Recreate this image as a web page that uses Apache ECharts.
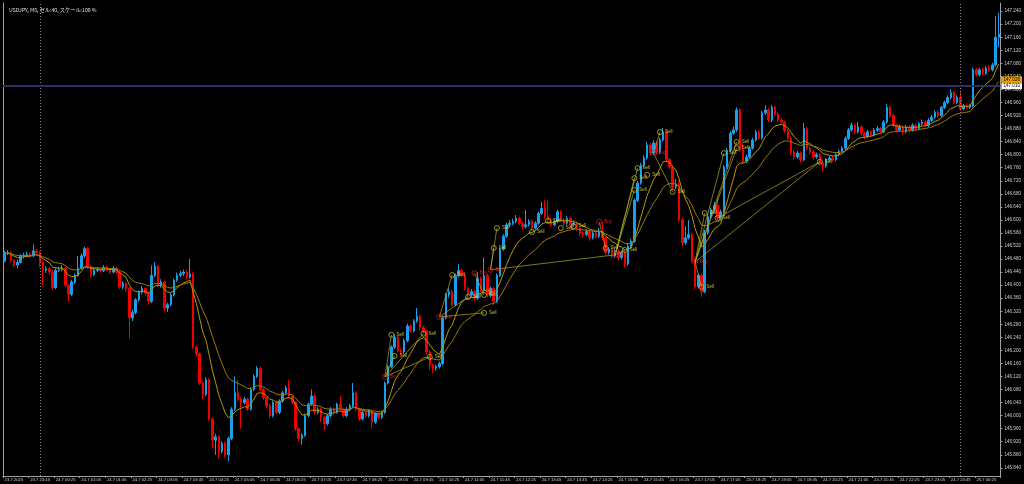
<!DOCTYPE html>
<html><head><meta charset="utf-8">
<script src="https://cdn.jsdelivr.net/npm/echarts@6/dist/echarts.min.js"></script>
<style>html,body{margin:0;padding:0;background:#000;}#c{width:1024px;height:484px;}</style>
</head><body><div id="c"></div>
<script>
const chartTitle = 'USDJPY, M5, セル:40, スケール:100 %';
const xTickLabels = ['23.7.2025','23.7 23:45','24.7 00:25','24.7 01:05','24.7 01:45','24.7 02:25','24.7 03:05','24.7 03:45','24.7 04:25','24.7 05:05','24.7 05:45','24.7 06:25','24.7 07:05','24.7 07:45','24.7 08:25','24.7 09:05','24.7 09:45','24.7 10:25','24.7 11:05','24.7 11:45','24.7 12:25','24.7 13:05','24.7 13:45','24.7 14:25','24.7 15:05','24.7 15:45','24.7 16:25','24.7 17:05','24.7 17:45','24.7 18:25','24.7 19:05','24.7 19:45','24.7 20:25','24.7 21:05','24.7 21:45','24.7 22:25','24.7 23:05','24.7 23:45','25.7 00:25'];
const yTicks = [145.840,145.880,145.920,145.960,146.000,146.040,146.080,146.120,146.160,146.200,146.240,146.280,146.320,146.360,146.400,146.440,146.480,146.520,146.560,146.600,146.640,146.680,146.720,146.760,146.800,146.840,146.880,146.920,146.960,147.000,147.040,147.080,147.120,147.160,147.200,147.240];

const opens = [
146.474,146.498,146.500,146.476,146.462,146.470,146.488,146.492,
146.495,146.490,146.505,146.500,146.470,146.445,146.450,146.440,
146.392,146.446,146.448,146.452,146.400,146.372,146.410,146.430,
146.452,146.490,146.512,146.458,146.432,146.445,146.448,146.444,
146.455,146.447,146.440,146.452,146.440,146.395,146.405,146.390,
146.300,146.316,146.355,146.378,146.390,146.375,146.350,146.430,
146.458,146.400,146.410,146.330,146.340,146.370,146.415,146.430,
146.435,146.440,146.425,146.435,146.210,146.190,146.100,146.065,
146.110,145.990,145.925,145.935,145.890,145.915,145.880,145.930,
146.020,146.070,146.050,146.040,146.050,146.020,146.080,146.120,
146.145,146.080,146.055,146.030,146.000,146.040,146.010,146.045,
146.070,146.085,146.060,146.040,145.960,145.930,145.940,146.000,
146.035,146.060,146.010,146.020,145.995,145.975,146.000,146.020,
146.010,146.035,146.020,146.000,146.020,146.030,146.070,146.020,
145.990,146.010,146.000,146.015,145.980,146.005,145.995,146.010,
146.100,146.150,146.210,146.240,146.200,146.195,146.230,146.275,
146.260,146.290,146.305,146.270,146.260,146.195,146.155,146.145,
146.150,146.160,146.300,146.370,146.380,146.340,146.430,146.445,
146.430,146.390,146.370,146.380,146.360,146.420,146.385,146.430,
146.370,146.390,146.350,146.430,146.510,146.550,146.585,146.590,
146.595,146.605,146.590,146.580,146.585,146.595,146.575,146.590,
146.620,146.635,146.610,146.600,146.585,146.595,146.625,146.600,
146.590,146.605,146.585,146.590,146.575,146.560,146.555,146.565,
146.545,146.560,146.550,146.565,146.545,146.500,146.510,146.490,
146.505,146.485,146.500,146.465,146.520,146.535,146.660,146.713,
146.768,146.790,146.830,146.805,146.836,146.808,146.845,146.870,
146.785,146.762,146.701,146.710,146.600,146.530,146.545,146.555,
146.477,146.395,146.430,146.380,146.560,146.610,146.631,146.646,
146.606,146.625,146.762,146.814,146.866,146.876,146.937,146.814,
146.780,146.793,146.820,146.845,146.869,146.851,146.928,146.937,
146.906,146.946,146.925,146.906,146.900,146.873,146.851,146.808,
146.793,146.805,146.784,146.880,146.820,146.808,146.793,146.800,
146.774,146.765,146.785,146.790,146.785,146.800,146.810,146.820,
146.850,146.876,146.890,146.870,146.885,146.865,146.855,146.870,
146.860,146.875,146.880,146.870,146.900,146.945,146.920,146.890,
146.875,146.885,146.870,146.885,146.875,146.890,146.880,146.895,
146.900,146.890,146.905,146.915,146.930,146.920,146.945,146.960,
146.975,146.990,146.960,146.975,146.940,146.950,146.945,146.950,
147.060,147.045,147.060,147.050,147.065,147.060,147.075,147.160];

const closes = [
146.498,146.500,146.476,146.462,146.470,146.488,146.492,146.495,
146.490,146.505,146.500,146.470,146.445,146.450,146.440,146.392,
146.446,146.448,146.452,146.400,146.372,146.410,146.430,146.452,
146.490,146.512,146.458,146.432,146.445,146.448,146.444,146.455,
146.447,146.440,146.452,146.440,146.395,146.405,146.390,146.300,
146.316,146.355,146.378,146.390,146.375,146.350,146.430,146.458,
146.400,146.410,146.330,146.340,146.370,146.415,146.430,146.435,
146.440,146.425,146.435,146.210,146.190,146.100,146.065,146.110,
145.990,145.925,145.935,145.890,145.915,145.880,145.930,146.020,
146.070,146.050,146.040,146.050,146.020,146.080,146.120,146.145,
146.080,146.055,146.030,146.000,146.040,146.010,146.045,146.070,
146.085,146.060,146.040,145.960,145.930,145.940,146.000,146.035,
146.060,146.010,146.020,145.995,145.975,146.000,146.020,146.010,
146.035,146.020,146.000,146.020,146.030,146.070,146.020,145.990,
146.010,146.000,146.015,145.980,146.005,145.995,146.010,146.100,
146.150,146.210,146.240,146.200,146.195,146.230,146.275,146.260,
146.290,146.305,146.270,146.260,146.195,146.155,146.145,146.150,
146.160,146.300,146.370,146.380,146.340,146.430,146.445,146.430,
146.390,146.370,146.380,146.360,146.420,146.385,146.430,146.370,
146.390,146.350,146.430,146.510,146.550,146.585,146.590,146.595,
146.605,146.590,146.580,146.585,146.595,146.575,146.590,146.620,
146.635,146.610,146.600,146.585,146.595,146.625,146.600,146.590,
146.605,146.585,146.590,146.575,146.560,146.555,146.565,146.545,
146.560,146.550,146.565,146.545,146.500,146.510,146.490,146.505,
146.485,146.500,146.465,146.520,146.535,146.660,146.713,146.768,
146.790,146.830,146.805,146.836,146.808,146.845,146.870,146.785,
146.762,146.701,146.710,146.600,146.530,146.545,146.555,146.477,
146.395,146.430,146.380,146.560,146.610,146.631,146.646,146.606,
146.625,146.762,146.814,146.866,146.876,146.937,146.814,146.780,
146.793,146.820,146.845,146.869,146.851,146.928,146.937,146.906,
146.946,146.925,146.906,146.900,146.873,146.851,146.808,146.793,
146.805,146.784,146.880,146.820,146.808,146.793,146.800,146.774,
146.765,146.785,146.790,146.785,146.800,146.810,146.820,146.850,
146.876,146.890,146.870,146.885,146.865,146.855,146.870,146.860,
146.875,146.880,146.870,146.900,146.945,146.920,146.890,146.875,
146.885,146.870,146.885,146.875,146.890,146.880,146.895,146.900,
146.890,146.905,146.915,146.930,146.920,146.945,146.960,146.975,
146.990,146.960,146.975,146.940,146.950,146.945,146.950,147.060,
147.045,147.060,147.050,147.065,147.060,147.075,147.160,147.170];

const highs = [
146.505,146.508,146.504,146.480,146.478,146.495,146.500,146.502,
146.500,146.525,146.512,146.504,146.476,146.458,146.456,146.446,
146.452,146.456,146.462,146.456,146.404,146.416,146.436,146.490,
146.498,146.518,146.516,146.462,146.452,146.456,146.454,146.462,
146.460,146.452,146.458,146.456,146.445,146.412,146.410,146.394,
146.325,146.360,146.384,146.398,146.394,146.380,146.460,146.470,
146.462,146.418,146.414,146.346,146.376,146.420,146.438,146.444,
146.448,146.446,146.480,146.440,146.215,146.194,146.104,146.118,
146.114,145.995,145.944,145.940,145.922,145.920,145.936,146.026,
146.120,146.110,146.056,146.058,146.055,146.086,146.126,146.152,
146.150,146.085,146.060,146.035,146.046,146.046,146.050,146.076,
146.092,146.110,146.065,146.044,145.964,145.946,146.006,146.040,
146.080,146.066,146.026,146.024,146.000,146.006,146.026,146.025,
146.040,146.060,146.024,146.026,146.036,146.100,146.075,146.024,
146.016,146.014,146.020,146.020,146.010,146.010,146.016,146.105,
146.156,146.216,146.250,146.246,146.206,146.236,146.282,146.280,
146.296,146.330,146.310,146.276,146.264,146.200,146.160,146.156,
146.166,146.306,146.376,146.390,146.385,146.436,146.465,146.450,
146.435,146.395,146.388,146.386,146.440,146.426,146.485,146.435,
146.396,146.394,146.436,146.516,146.556,146.592,146.600,146.604,
146.615,146.610,146.596,146.630,146.602,146.600,146.596,146.626,
146.655,146.660,146.660,146.606,146.602,146.632,146.630,146.606,
146.612,146.610,146.598,146.595,146.580,146.566,146.572,146.570,
146.566,146.566,146.575,146.595,146.550,146.516,146.515,146.512,
146.510,146.506,146.505,146.526,146.542,146.666,146.720,146.775,
146.798,146.840,146.836,146.845,146.842,146.852,146.882,146.875,
146.790,146.768,146.725,146.720,146.606,146.580,146.600,146.560,
146.482,146.436,146.435,146.570,146.616,146.638,146.655,146.667,
146.632,146.768,146.820,146.872,146.886,146.945,146.942,146.836,
146.800,146.826,146.852,146.876,146.875,146.934,146.952,146.942,
146.952,146.950,146.930,146.912,146.905,146.878,146.856,146.814,
146.812,146.810,146.897,146.885,146.826,146.814,146.806,146.805,
146.780,146.790,146.796,146.796,146.806,146.816,146.826,146.856,
146.882,146.898,146.895,146.900,146.890,146.870,146.876,146.875,
146.882,146.888,146.885,146.906,146.955,146.950,146.925,146.895,
146.892,146.890,146.892,146.890,146.896,146.895,146.900,146.908,
146.905,146.912,146.922,146.936,146.935,146.950,146.966,146.982,
147.000,146.995,146.982,146.995,146.956,146.955,146.956,147.066,
147.066,147.066,147.068,147.072,147.075,147.082,147.225,147.235];

const lows = [
146.470,146.492,146.470,146.455,146.452,146.466,146.482,146.486,
146.484,146.486,146.494,146.455,146.400,146.438,146.432,146.385,
146.388,146.440,146.442,146.394,146.350,146.366,146.404,146.426,
146.448,146.484,146.450,146.424,146.428,146.440,146.438,146.440,
146.442,146.434,146.436,146.432,146.388,146.388,146.380,146.237,
146.290,146.310,146.350,146.372,146.368,146.340,146.345,146.425,
146.394,146.392,146.320,146.318,146.335,146.365,146.410,146.424,
146.428,146.418,146.420,146.205,146.182,146.094,146.050,146.060,
145.984,145.900,145.880,145.870,145.884,145.872,145.860,145.925,
146.015,146.044,145.960,146.034,146.014,146.015,146.075,146.115,
146.075,146.048,146.024,145.992,145.995,146.004,146.005,146.040,
146.064,146.054,146.034,145.954,145.922,145.910,145.935,145.995,
146.030,146.004,146.004,145.980,145.955,145.970,145.995,146.004,
146.006,146.014,145.994,145.995,146.014,146.025,146.014,145.984,
145.985,145.994,145.995,145.960,145.975,145.990,145.990,146.005,
146.095,146.145,146.204,146.194,146.186,146.190,146.225,146.254,
146.255,146.285,146.262,146.252,146.188,146.140,146.130,146.138,
146.144,146.155,146.295,146.362,146.334,146.335,146.424,146.424,
146.384,146.362,146.364,146.352,146.355,146.378,146.380,146.364,
146.362,146.340,146.345,146.425,146.505,146.545,146.578,146.584,
146.590,146.584,146.572,146.574,146.580,146.568,146.570,146.585,
146.615,146.604,146.594,146.578,146.580,146.590,146.594,146.582,
146.585,146.578,146.580,146.568,146.552,146.546,146.550,146.536,
146.540,146.544,146.545,146.538,146.492,146.494,146.482,146.485,
146.476,146.478,146.455,146.460,146.515,146.530,146.655,146.708,
146.760,146.785,146.798,146.800,146.800,146.802,146.840,146.778,
146.755,146.695,146.694,146.594,146.520,146.524,146.540,146.470,
146.388,146.390,146.364,146.375,146.555,146.604,146.625,146.600,
146.600,146.620,146.756,146.808,146.860,146.870,146.808,146.772,
146.774,146.788,146.815,146.840,146.845,146.846,146.922,146.900,
146.900,146.918,146.900,146.894,146.866,146.845,146.800,146.786,
146.788,146.776,146.780,146.814,146.800,146.786,146.788,146.768,
146.747,146.760,146.780,146.778,146.780,146.795,146.805,146.815,
146.845,146.870,146.864,146.865,146.858,146.848,146.850,146.854,
146.856,146.870,146.864,146.866,146.895,146.914,146.884,146.868,
146.870,146.860,146.865,146.870,146.870,146.874,146.875,146.890,
146.884,146.885,146.900,146.910,146.914,146.915,146.940,146.955,
146.970,146.954,146.955,146.935,146.936,146.940,146.940,146.945,
147.040,147.040,147.044,147.045,147.055,147.055,147.070,147.130];

// trade history markers (bar index, price, type)
const tradeBars   = [119,121,122,131,133,136,140,145,147,150,150,152,153,154,165,170,174,178,186,188,191,194,197,197,198,201,203,205,209,216,218,219,223,225,229,229,255];
const tradePrices = [146.119,146.248,146.183,146.251,146.180,146.303,146.431,146.364,146.437,146.370,146.315,146.447,146.514,146.575,146.563,146.597,146.575,146.581,146.594,146.514,146.493,146.508,146.728,146.692,146.759,146.738,146.805,146.869,146.686,146.471,146.395,146.621,146.606,146.805,146.839,146.820,146.778];
const tradeTypes  = ['Buy','Sell','Sell','Sell','Sell','Buy','Sell','Sell','Buy','Sell','Sell','Buy','Sell','Sell','Sell','Sell','Sell','Sell','Buy','Sell','Buy','Sell','Sell','Sell','Sell','Sell','Buy','Sell','Sell','Buy','Sell','Sell','Sell','Sell','Sell','Sell','Sell'];
const tradeLinks  = [[0,1],[0,2],[0,3],[0,4],[5,10],[5,6],[5,7],[8,9],[11,20],[11,12],[11,13],[20,22],[20,24],[20,23],[20,21],[26,27],[26,28],[29,36],[32,36],[29,31],[29,33],[29,34],[29,30],[29,35],[18,19]];

const priceLevels = [147.033, 147.026, 147.010];
const separatorBars = [11, 299];
const maPeriods = [10, 21];

const yMin = 145.815, yMax = 147.265;
const bull = '#1c9fea', bear = '#f20000';

const N = closes.length;
const barTimes = [];
const t0 = Date.UTC(2025, 6, 23, 23, 5);
for (let i = 0; i < N; i++) {
  const d = new Date(t0 + i * 300000);
  barTimes.push(d.getUTCDate() + '.' + (d.getUTCMonth() + 1) + ' ' +
    String(d.getUTCHours()).padStart(2, '0') + ':' + String(d.getUTCMinutes()).padStart(2, '0'));
}
const candles = closes.map((c, i) => [opens[i], c, lows[i], highs[i]]);
function ema(src, p) {
  const k = 2 / (p + 1); const out = []; let e = src[0];
  for (let i = 0; i < src.length; i++) { if (i > 0) e = e + k * (src[i] - e); out.push(+e.toFixed(4)); }
  return out;
}
const maFast = ema(closes, maPeriods[0]);
const maSlow = ema(closes, maPeriods[1]);

const FONT = 'Liberation Sans';
const markers = tradeBars.map((b, i) => ({
  value: [b, tradePrices[i]],
  itemStyle: { borderColor: tradeTypes[i] === 'Buy' ? '#c02020' : '#b8b830' },
  label: { formatter: tradeTypes[i], color: tradeTypes[i] === 'Buy' ? '#ff2a2a' : '#e0e040' }
}));
const linkData = tradeLinks.map(([a, b]) => ({ coords: [[tradeBars[a], tradePrices[a]], [tradeBars[b], tradePrices[b]]] }));

const levelColors = ['#f2d000', '#f0a000', '#ffffff'];
const levelMarks = priceLevels.map((v, i) => ({
  yAxis: v,
  lineStyle: i === 2 ? { color: '#2e2e66', width: 2, type: 'solid', opacity: 1 } : { color: 'rgba(0,0,0,0)', width: 0 },
  label: { show: true, position: 'end', distance: 1, formatter: v.toFixed(3), backgroundColor: levelColors[i],
           color: '#000', fontSize: 4.6, fontFamily: FONT, padding: [1, 2, 0, 2] }
}));
const sepMarks = separatorBars.map(b => ({
  xAxis: barTimes[b],
  lineStyle: { color: '#8a8a8a', width: 1, type: [1, 2] },
  label: { show: false }
}));

const chart = echarts.init(document.getElementById('c'));
chart.setOption({
  backgroundColor: '#000',
  animation: false,
  title: { text: chartTitle, left: 4, top: 2, textStyle: { color: '#e0e0e0', fontSize: 5.2, fontWeight: 'normal', fontFamily: 'Noto Sans CJK JP' } },
  grid: { left: 3, right: 19, top: 3, bottom: 8 },
  xAxis: {
    type: 'category', data: barTimes, boundaryGap: true,
    axisLine: { lineStyle: { color: '#a0a0a0', width: 1 } },
    axisTick: { show: true, interval: (i) => i % 8 === 0, length: 2, lineStyle: { color: '#a0a0a0' } },
    axisLabel: { interval: (i) => i % 8 === 0, formatter: (v, i) => xTickLabels[i / 8] || '', align: 'left',
                 color: '#d0d0d0', fontSize: 4.2, fontFamily: FONT, margin: 2 },
    splitLine: { show: false }
  },
  yAxis: [{
    type: 'value', position: 'right', min: yMin, max: yMax, scale: true,
    axisLine: { show: true, lineStyle: { color: '#a0a0a0', width: 1 } },
    axisTick: { show: true, customValues: yTicks, length: 2, lineStyle: { color: '#a0a0a0' } },
    axisLabel: { customValues: yTicks, formatter: v => v.toFixed(3), color: '#d0d0d0', fontSize: 4.6, fontFamily: FONT, margin: 4 },
    splitLine: { show: false }
  }, {
    type: 'value', position: 'left', min: yMin, max: yMax,
    axisLine: { show: true, lineStyle: { color: '#a0a0a0', width: 1 } },
    axisTick: { show: false }, axisLabel: { show: false }, splitLine: { show: false }
  }],
  series: [{
    type: 'candlestick', data: candles, barWidth: 2, yAxisIndex: 0,
    itemStyle: { color: bull, color0: bear, borderColor: bull, borderColor0: bear, borderWidth: 1 },
    markLine: { symbol: 'none', silent: true, animation: false, data: sepMarks.concat(levelMarks) }
  }, {
    type: 'line', data: maFast, showSymbol: false, symbol: 'none', yAxisIndex: 0,
    lineStyle: { color: '#b39a00', width: 1 }, z: 3
  }, {
    type: 'line', data: maSlow, showSymbol: false, symbol: 'none', yAxisIndex: 0,
    lineStyle: { color: '#9c7a06', width: 1 }, z: 3
  }, {
    type: 'lines', coordinateSystem: 'cartesian2d', data: linkData, yAxisIndex: 0,
    lineStyle: { color: '#b8b028', width: 0.8, opacity: 0.85 }, z: 4
  }, {
    type: 'scatter', data: markers, symbol: 'circle', symbolSize: 5, yAxisIndex: 0,
    itemStyle: { color: 'rgba(0,0,0,0)', borderWidth: 1 },
    label: { show: true, position: 'right', distance: 2, fontSize: 4.5, fontFamily: FONT },
    z: 5
  }]
});
</script></body></html>
